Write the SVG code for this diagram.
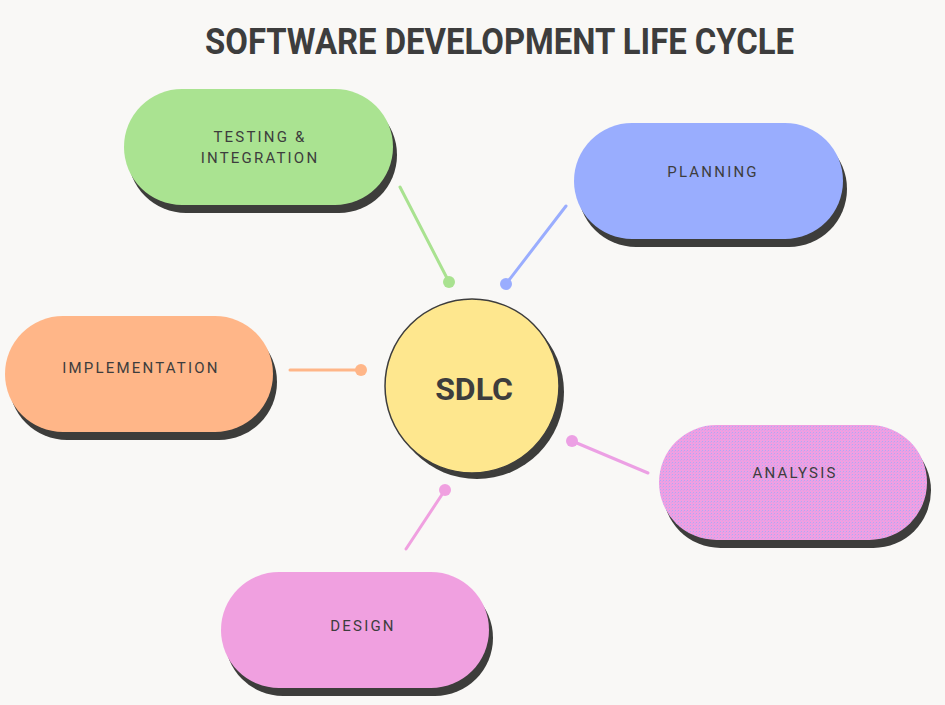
<svg xmlns="http://www.w3.org/2000/svg" width="945" height="705" viewBox="0 0 945 705">
<defs>
<style>
.shadow{fill:#3d3d3b}
.lbl{font-family:Roboto,"Liberation Sans",sans-serif;font-size:15px;letter-spacing:2.2px;fill:#3d3d3d;text-anchor:middle;font-weight:400}
.title{font-family:Roboto,"Liberation Sans",sans-serif;font-size:36px;font-weight:700;fill:#3d3d3d}
.conn{stroke-width:3;stroke-linecap:round;fill:none}
</style>
<pattern id="dither" width="3" height="3" patternUnits="userSpaceOnUse">
<rect width="3" height="3" fill="#f09fe2"/>
<rect x="0" y="0" width="1" height="1" fill="#aeaaf4"/>
<rect x="2" y="1" width="1" height="1" fill="#d8a2ea"/>
</pattern>
</defs>
<rect width="945" height="705" fill="#f9f8f6"/>
<text class="title" x="205" y="54" textLength="589" lengthAdjust="spacingAndGlyphs">SOFTWARE DEVELOPMENT LIFE CYCLE</text>

<g id="connectors">
<line class="conn" x1="400" y1="187" x2="449" y2="282" stroke="#a9e290"/>
<circle cx="449" cy="282" r="6" fill="#a9e290"/>
<line class="conn" x1="566" y1="206" x2="506" y2="284" stroke="#9aadfe"/>
<circle cx="506" cy="284" r="6" fill="#9aadfe"/>
<line class="conn" x1="290" y1="370" x2="361" y2="370" stroke="#ffb688"/>
<circle cx="361" cy="370" r="6" fill="#ffb688"/>
<line class="conn" x1="648" y1="473" x2="572" y2="441" stroke="#eca0e4"/>
<circle cx="572" cy="441" r="6" fill="#eca0e4"/>
<line class="conn" x1="406" y1="549" x2="445" y2="490" stroke="#f0a0e0"/>
<circle cx="445" cy="490" r="6" fill="#f0a0e0"/>
</g>

<g id="node-testing">
<rect class="shadow" x="128" y="97" width="269" height="116" rx="58"/>
<rect x="124" y="89" width="269" height="116" rx="58" fill="#aae391"/>
<text class="lbl" x="260" y="142">TESTING &amp;</text>
<text class="lbl" x="260" y="163">INTEGRATION</text>
</g>

<g id="node-planning">
<rect class="shadow" x="578" y="131" width="269" height="116" rx="58"/>
<rect x="574" y="123" width="269" height="116" rx="58" fill="#99adfe"/>
<text class="lbl" x="713" y="177">PLANNING</text>
</g>

<g id="node-implementation">
<rect class="shadow" x="9" y="324" width="268" height="116" rx="58"/>
<rect x="5" y="316" width="268" height="116" rx="58" fill="#ffb688"/>
<text class="lbl" x="141" y="373">IMPLEMENTATION</text>
</g>

<g id="node-analysis">
<rect class="shadow" x="663" y="433" width="268" height="115" rx="57.5"/>
<rect x="659" y="425" width="268" height="115" rx="57.5" fill="url(#dither)"/>
<text class="lbl" x="795" y="478">ANALYSIS</text>
</g>

<g id="node-design">
<rect class="shadow" x="225" y="580" width="268" height="116" rx="58"/>
<rect x="221" y="572" width="268" height="116" rx="58" fill="#f0a0e0"/>
<text class="lbl" x="363" y="631">DESIGN</text>
</g>

<g id="node-sdlc">
<circle class="shadow" cx="477" cy="392" r="87"/>
<circle cx="472" cy="386" r="87" fill="#fee78e" stroke="#3d3d3d" stroke-width="1.5"/>
<text x="474" y="400" font-family="Roboto,'Liberation Sans',sans-serif" font-size="32" font-weight="700" fill="#3d3d3d" text-anchor="middle">SDLC</text>
</g>
</svg>
